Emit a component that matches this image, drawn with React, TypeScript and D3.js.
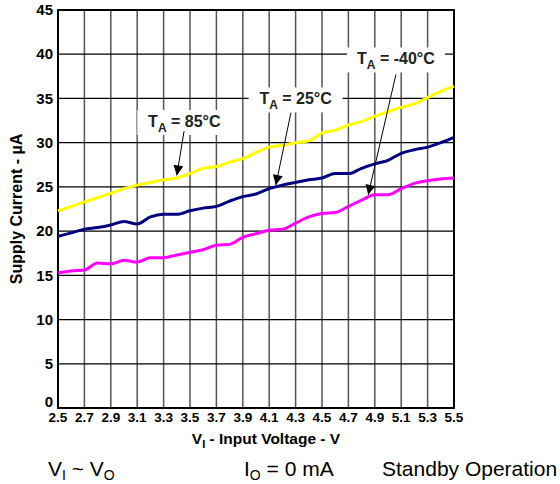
import * as d3 from "d3";
import React, {useEffect, useRef} from "react";

// input voltage (V)
const voltages = [2.5, 2.6, 2.7, 2.8, 2.9, 3.0, 3.1, 3.2, 3.3, 3.4, 3.5, 3.6, 3.7, 3.8, 3.9, 4.0,
  4.1, 4.2, 4.3, 4.4, 4.5, 4.6, 4.7, 4.8, 4.9, 5.0, 5.1, 5.2, 5.3, 5.4, 5.5];

// supply current (uA) per temperature
const current85 = [22.3, 22.8, 23.3, 23.8, 24.3, 24.8, 25.2, 25.5, 25.8, 26.0, 26.5, 27.1, 27.3, 27.8, 28.2, 28.9,
  29.5, 29.7, 30.0, 30.2, 31.1, 31.4, 32.0, 32.4, 33.0, 33.5, 34.0, 34.4, 35.1, 35.8, 36.4];
const current25 = [19.4, 19.8, 20.2, 20.4, 20.7, 21.1, 20.8, 21.6, 21.9, 21.9, 22.3, 22.6, 22.8, 23.4, 23.9, 24.2,
  24.8, 25.2, 25.5, 25.8, 26.0, 26.5, 26.5, 27.1, 27.6, 28.0, 28.8, 29.2, 29.5, 30.0, 30.6];
const currentM40 = [15.3, 15.5, 15.6, 16.4, 16.3, 16.7, 16.5, 17.0, 17.0, 17.3, 17.6, 17.9, 18.4, 18.5, 19.3, 19.7,
  20.1, 20.2, 20.9, 21.6, 22.0, 22.1, 22.8, 23.5, 24.1, 24.1, 24.8, 25.4, 25.7, 25.9, 26.0];

const xTicks = ['2.5', '2.7', '2.9', '3.1', '3.3', '3.5', '3.7', '3.9', '4.1', '4.3', '4.5', '4.7', '4.9', '5.1', '5.3', '5.5'];
const yTicks = [0, 5, 10, 15, 20, 25, 30, 35, 40, 45];

// annotation labels: temperature, label position, arrow start, arrow tip (data coords)
const labelTemps = ['85°C', '25°C', '-40°C'];
const labelPos = [[3.457, 31.77], [4.30, 34.32], [5.06, 38.84]];
const arrowFrom = [[3.455, 31.3], [4.265, 33.4], [5.06, 37.7]];
const arrowTo = [[3.40, 26.3], [4.15, 25.2], [4.85, 24.1]];

const series = [
  {values: current85, color: '#ffff00'},
  {values: current25, color: '#000080'},
  {values: currentM40, color: '#ff00ff'},
];

const App: React.FC = () => {
  const ref = useRef<SVGSVGElement | null>(null);

  useEffect(() => {
    const svg = d3.select(ref.current);
    svg.selectAll('*').remove();
    const width = 560;
    const height = 484;
    const margin = {top: 10, left: 58, right: 106, bottom: 76};
    const font = '"Liberation Sans", Arial, Helvetica, sans-serif';

    svg.attr('width', width).attr('height', height).style('font-family', font);

    const x = d3.scaleLinear().domain([2.5, 5.5]).range([margin.left, width - margin.right]);
    const y = d3.scaleLinear().domain([0, 45]).range([height - margin.bottom, margin.top]);

    svg.append('rect').attr('width', width).attr('height', height).attr('fill', 'white');

    // grid
    const grid = svg.append('g');
    grid.selectAll('.vline')
      .data(xTicks)
      .enter()
      .append('line')
      .attr('x1', (d) => x(+d)).attr('x2', (d) => x(+d))
      .attr('y1', y(0)).attr('y2', y(45))
      .attr('stroke', '#555')
      .attr('stroke-width', 1.5);
    grid.selectAll('.hline')
      .data(yTicks)
      .enter()
      .append('line')
      .attr('x1', x(2.5)).attr('x2', x(5.5))
      .attr('y1', (d) => y(d)).attr('y2', (d) => y(d))
      .attr('stroke', '#000')
      .attr('stroke-width', 1.2);

    // white boxes behind the labels
    labelPos.forEach((p, i) => {
      const w = labelTemps[i].length > 4 ? 98 : 94;
      svg.append('rect')
        .attr('x', x(p[0]) - w / 2)
        .attr('y', y(p[1]) - 17)
        .attr('width', w)
        .attr('height', 25)
        .attr('fill', 'white');
    });

    // frame
    svg.append('rect')
      .attr('x', x(2.5)).attr('y', y(45))
      .attr('width', x(5.5) - x(2.5)).attr('height', y(0) - y(45))
      .attr('fill', 'none')
      .attr('stroke', '#000')
      .attr('stroke-width', 2);

    // curves
    const line = d3.line<number>()
      .x((_, i) => x(voltages[i]))
      .y((d) => y(d))
      .curve(d3.curveMonotoneX);
    series.forEach((s) => {
      svg.append('path')
        .attr('d', line(s.values))
        .attr('fill', 'none')
        .attr('stroke', s.color)
        .attr('stroke-width', 3)
        .attr('stroke-linejoin', 'round');
    });

    // tick labels
    svg.selectAll('.ylab')
      .data(yTicks)
      .enter()
      .append('text')
      .attr('x', 53)
      .attr('y', (d) => y(d) - (d === 0 ? 6 : 0))
      .attr('dy', '0.35em')
      .attr('text-anchor', 'end')
      .style('font-size', '15px')
      .style('font-weight', 'bold')
      .text((d) => d);

    svg.selectAll('.xlab')
      .data(xTicks)
      .enter()
      .append('text')
      .attr('x', (d) => x(+d))
      .attr('y', 422)
      .attr('text-anchor', 'middle')
      .style('font-size', '13.5px')
      .style('font-weight', 'bold')
      .text((d) => d);

    // axis titles
    const xt = svg.append('text')
      .attr('x', 266)
      .attr('y', 444)
      .attr('text-anchor', 'middle')
      .style('font-size', '15.5px')
      .style('font-weight', 'bold');
    xt.append('tspan').text('V');
    xt.append('tspan').attr('dy', 4).style('font-size', '11px').text('I');
    xt.append('tspan').attr('dy', -4).text(' - Input Voltage - V');

    svg.append('text')
      .attr('transform', `translate(22, ${(y(0) + y(45)) / 2}) rotate(-90)`)
      .attr('text-anchor', 'middle')
      .style('font-size', '16px')
      .style('font-weight', 'bold')
      .text('Supply Current - µA');

    // annotations
    svg.append('defs')
      .append('marker')
      .attr('id', 'arrow')
      .attr('viewBox', '0 0 10 10')
      .attr('refX', 10).attr('refY', 5)
      .attr('markerUnits', 'userSpaceOnUse')
      .attr('markerWidth', 11).attr('markerHeight', 10)
      .attr('orient', 'auto')
      .append('path')
      .attr('d', 'M0,0 L10,5 L0,10 Z')
      .attr('fill', '#000');

    labelPos.forEach((p, i) => {
      const t = svg.append('text')
        .attr('x', x(p[0]))
        .attr('y', y(p[1]))
        .attr('text-anchor', 'middle')
        .style('font-size', '16px')
        .style('font-weight', 'bold')
        .attr('fill', '#222');
      t.append('tspan').text('T');
      t.append('tspan').attr('dy', 5).style('font-size', '12px').text('A');
      t.append('tspan').attr('dy', -5).text(' = ' + labelTemps[i]);

      svg.append('line')
        .attr('x1', x(arrowFrom[i][0])).attr('y1', y(arrowFrom[i][1]))
        .attr('x2', x(arrowTo[i][0])).attr('y2', y(arrowTo[i][1]))
        .attr('stroke', '#000')
        .attr('stroke-width', 1)
        .attr('marker-end', 'url(#arrow)');
    });

    // conditions below the chart
    const cond = svg.append('g').style('font-size', '21px');
    const c1 = cond.append('text').attr('x', 48).attr('y', 476);
    c1.append('tspan').text('V');
    c1.append('tspan').attr('dy', 4).style('font-size', '14px').text('I');
    c1.append('tspan').attr('dy', -4).text(' ~ V');
    c1.append('tspan').attr('dy', 4).style('font-size', '14px').text('O');

    const c2 = cond.append('text').attr('x', 244).attr('y', 476);
    c2.append('tspan').text('I');
    c2.append('tspan').attr('dy', 4).style('font-size', '14px').text('O');
    c2.append('tspan').attr('dy', -4).text(' = 0 mA');

    cond.append('text').attr('x', 382).attr('y', 476).text('Standby Operation');

    return () => {
      svg.selectAll('*').remove();
    };
  }, []);

  return <svg ref={ref} style={{position: 'absolute', left: 0, top: 0}}/>;
};

export default App;
